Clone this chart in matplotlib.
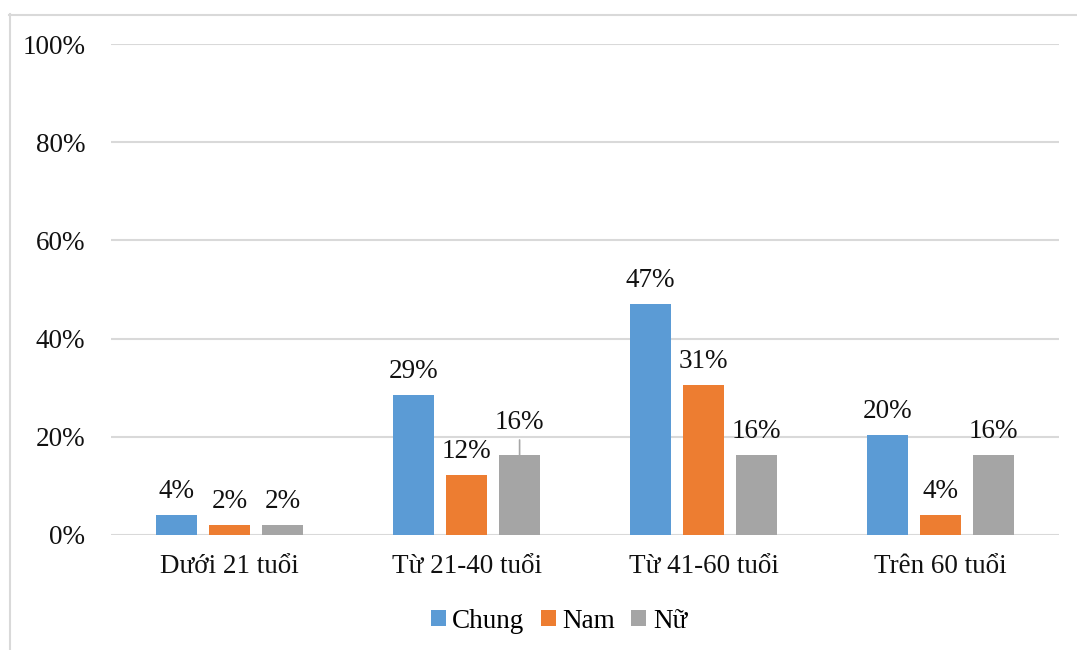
import matplotlib
matplotlib.use("Agg")
import matplotlib.pyplot as plt
from matplotlib.lines import Line2D
from matplotlib.patches import Patch
import numpy as np

plt.rcParams['font.family'] = ['Liberation Serif', 'DejaVu Serif']

categories = ["Dưới 21 tuổi", "Từ 21-40 tuổi", "Từ 41-60 tuổi", "Trên 60 tuổi"]
series_names = ["Chung", "Nam", "Nữ"]
chung = [4.1, 28.6, 47.0, 20.4]
nam = [2.0, 12.2, 30.6, 4.1]
nu = [2.0, 16.3, 16.3, 16.3]
yticks = [0, 20, 40, 60, 80, 100]
colors = ["#5B9BD5", "#ED7D31", "#A5A5A5"]

W, H = 1077, 650
fig = plt.figure(figsize=(W / 100, H / 100), dpi=100)
ax = fig.add_axes([111 / W, 115 / H, (1059 - 111) / W, (535 - 44) / H])

# chart-area frame (left and top edges visible)
grid_c = "#D9D9D9"
fig.add_artist(Line2D([9.5 / W, 9.5 / W], [0, 1 - 14 / H], transform=fig.transFigure,
                      color=grid_c, lw=1.5))
fig.add_artist(Line2D([9 / W, 1], [1 - 14.5 / H, 1 - 14.5 / H], transform=fig.transFigure,
                      color=grid_c, lw=1.5))

x = np.arange(len(categories))
bw = 0.173
step = 0.224
fs = 19.5
txt_c = "#111111"
for i, (vals, col) in enumerate(zip([chung, nam, nu], colors)):
    pos = x + (i - 1) * step
    ax.bar(pos, vals, width=bw, color=col, zorder=3)
    for j, (p, v) in enumerate(zip(pos, vals)):
        if i == 2 and j == 1:
            # label lifted with a leader line
            ax.annotate(f"{v:.0f}%", (p, v), xytext=(0, 26 * 0.72), textcoords="offset points",
                        ha="center", va="baseline", fontsize=fs, color=txt_c)
            ax.annotate("", (p, v), xytext=(0, 15 * 0.72), textcoords="offset points",
                        arrowprops=dict(arrowstyle="-", color="#A6A6A6", lw=1.2,
                                        shrinkA=0, shrinkB=0))
        else:
            ax.annotate(f"{v:.0f}%", (p, v), xytext=(0, 17 * 0.72), textcoords="offset points",
                        ha="center", va="baseline", fontsize=fs, color=txt_c)

ax.set_xlim(-0.5, len(categories) - 0.5)
ax.set_ylim(0, 100)
ax.set_yticks(yticks)
ax.set_yticklabels([f"{t}%" for t in yticks], fontsize=fs, color=txt_c)
ax.set_xticks(x)
ax.set_xticklabels(categories, fontsize=fs, color=txt_c)
ax.tick_params(axis="both", length=0)
ax.tick_params(axis="y", pad=18.5)
ax.tick_params(axis="x", pad=14)
ax.yaxis.grid(True, color=grid_c, lw=1.5, zorder=0)
ax.set_axisbelow(True)
for s in ax.spines.values():
    s.set_visible(False)

handles = [Patch(facecolor=c, edgecolor="none") for c in colors]
fig.legend(handles, series_names, loc="center", bbox_to_anchor=(559 / W, 1 - 621 / H),
           ncol=3, frameon=False, fontsize=fs, handlelength=0.55, handleheight=0.55,
           handletextpad=0.25, columnspacing=0.6)

fig.savefig("out.png", dpi=100, facecolor="white")
